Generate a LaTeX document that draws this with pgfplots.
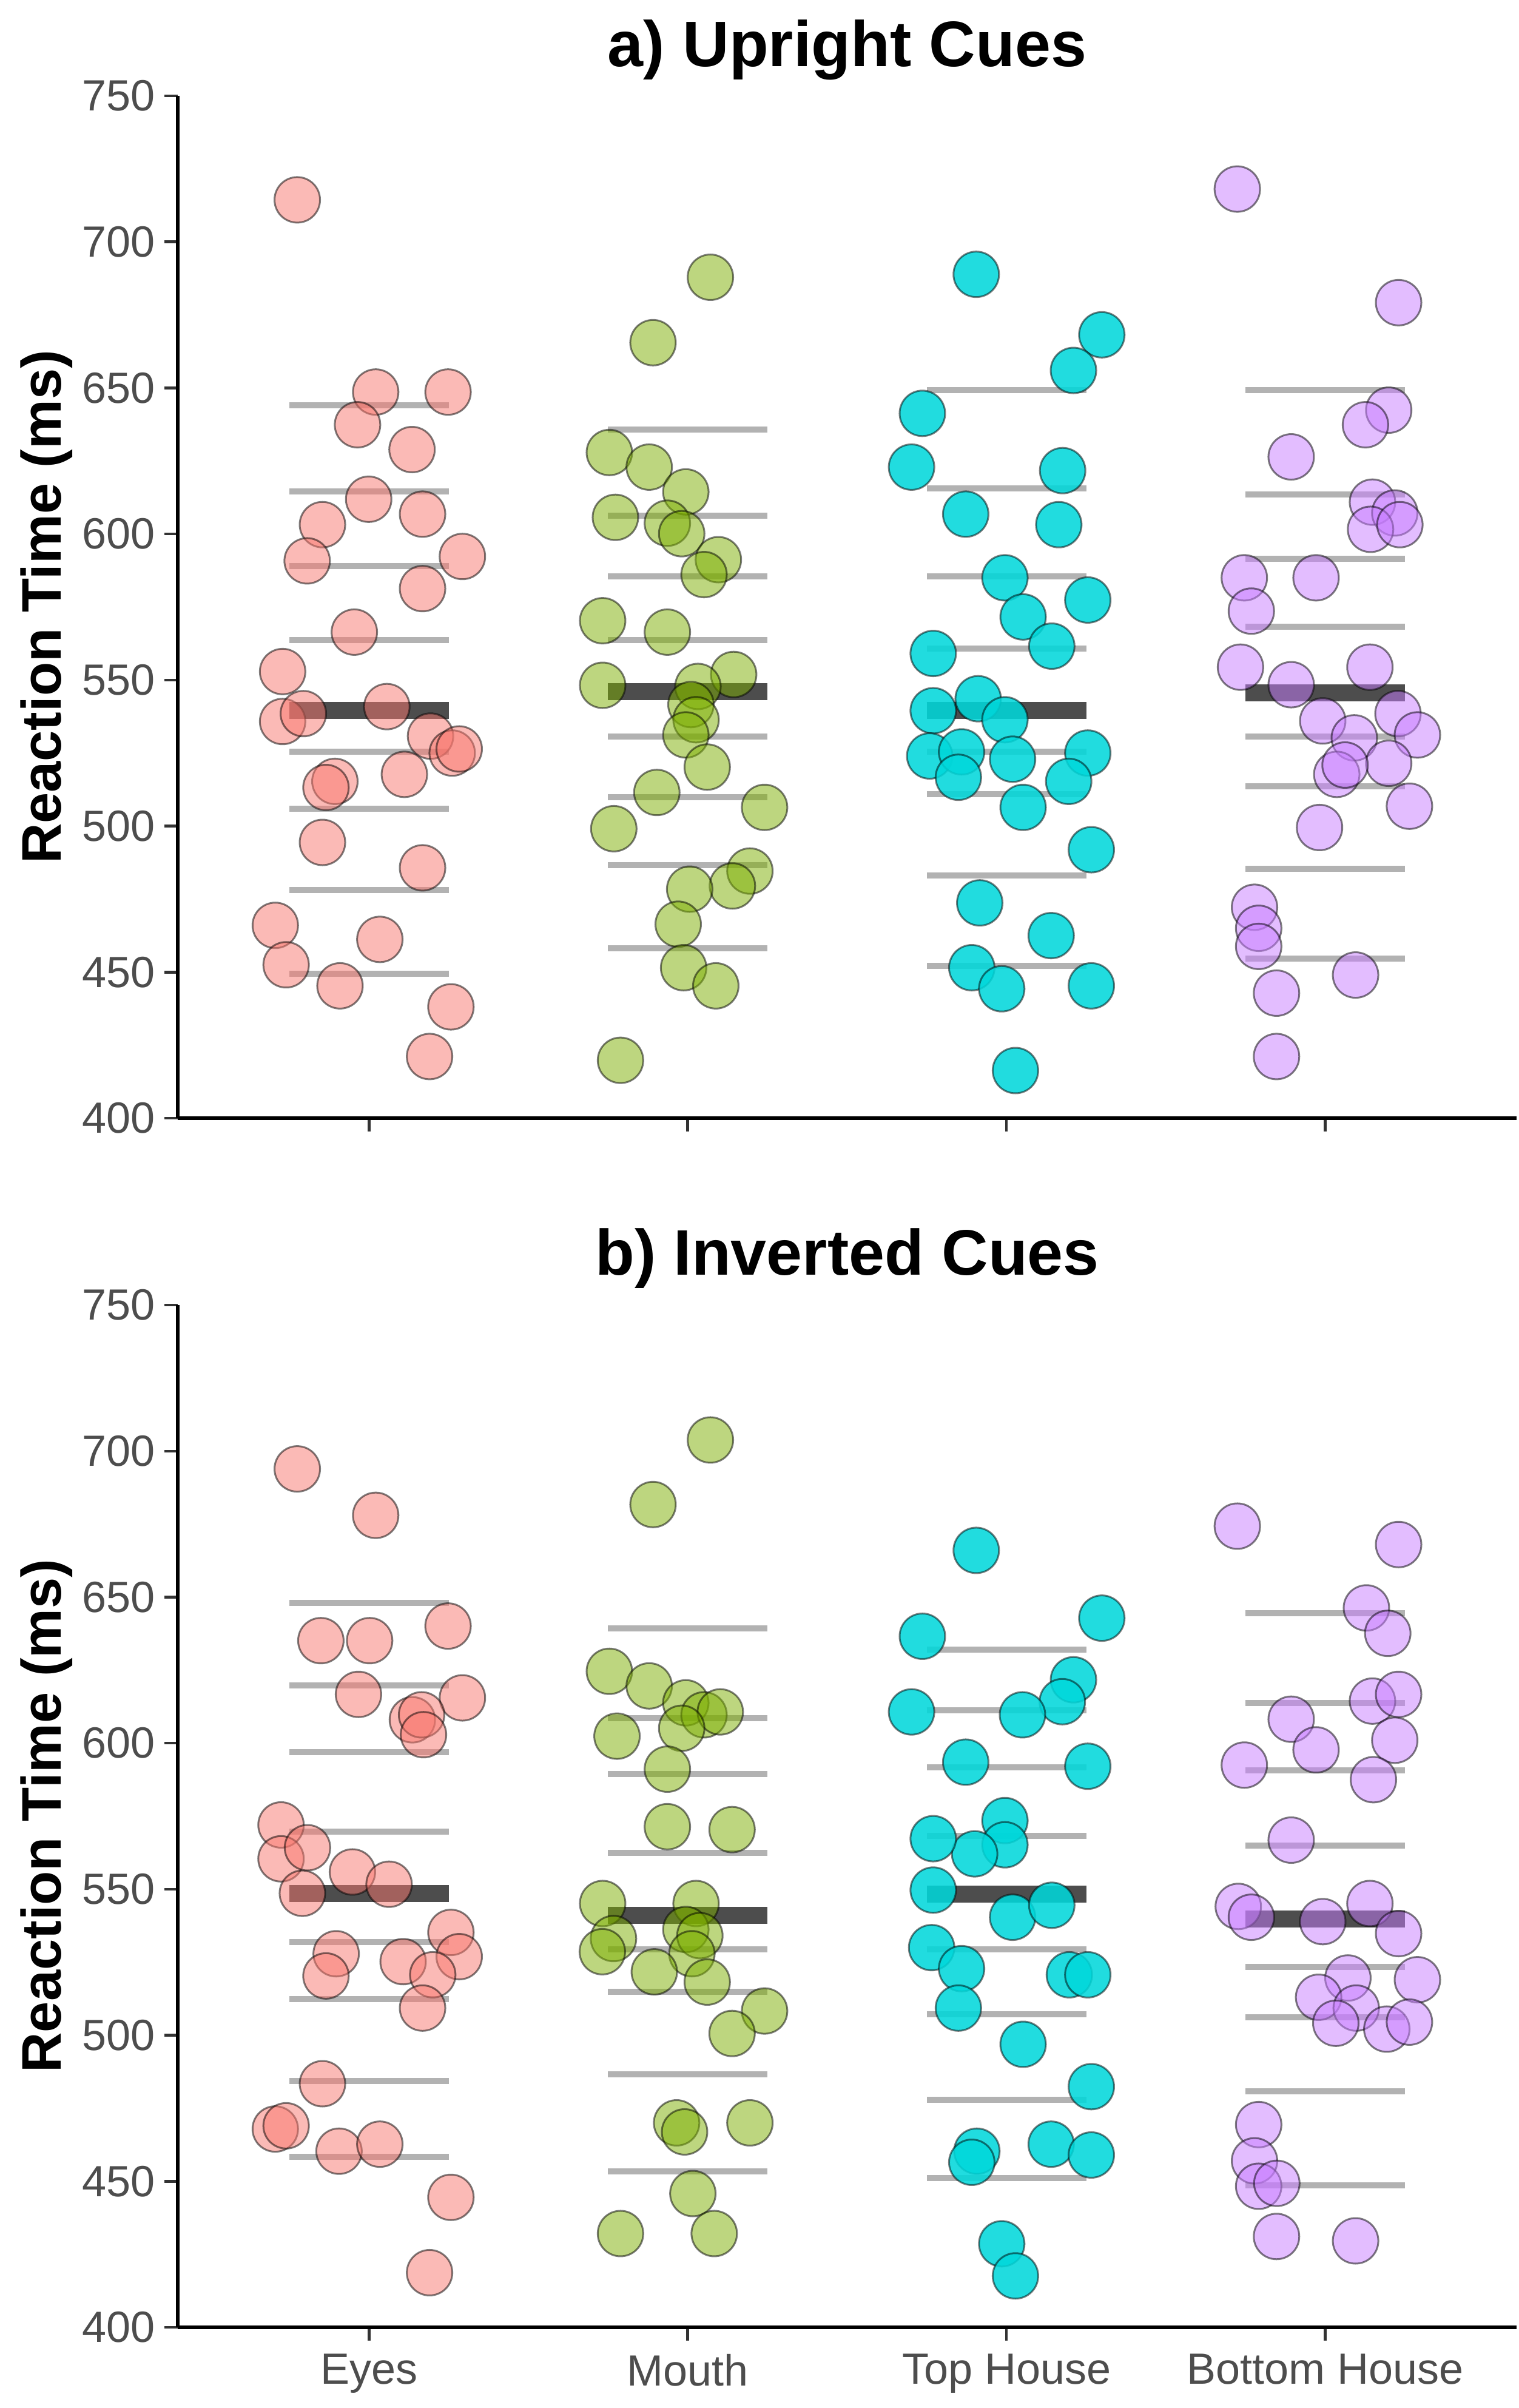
\documentclass[border=0pt]{standalone}
\usepackage{fontspec}
\setmainfont{Liberation Sans}
\usepackage{pgfplots}
\pgfplotsset{compat=1.18}
\definecolor{cEyes}{HTML}{F8766D}
\definecolor{cMouth}{HTML}{7CAE00}
\definecolor{cTop}{RGB}{0,215,218}
\definecolor{cBot}{HTML}{C77CFF}
\definecolor{tickgray}{HTML}{4D4D4D}
\definecolor{qgray}{RGB}{178,178,178}
\definecolor{medgray}{RGB}{77,77,77}
\pgfplotsset{
 rtpanel/.style={
  scale only axis, width=220.7pt, height=168.5pt,
  xmin=0.4, xmax=4.6, ymin=400, ymax=750,
  axis x line*=bottom, axis y line*=left,
  axis line style={-, black, line width=0.6pt},
  xtick={1,2,3,4}, ytick={400,450,...,750},
  tick align=outside, major tick length=2.2pt,
  tick style={color=black!80, line width=0.45pt},
  /pgf/number format/assume math mode=true,
  ticklabel style={font=\fontsize{7.2}{8.6}\selectfont, text=tickgray},
  yticklabel style={inner sep=0pt, xshift=-1.3pt},
  xticklabel style={inner sep=0pt, yshift=-2pt},
  clip=false,
  unbounded coords=jump,
 },
 pts/.style={only marks, mark=*, mark size=3.75pt,
   mark options={fill=#1, fill opacity=0.5, draw=black, draw opacity=0.5, line width=0.3pt}},
 ptsc/.style={only marks, mark=*, mark size=3.75pt,
   mark options={fill=#1, fill opacity=0.87, draw=black, draw opacity=0.5, line width=0.3pt}},
 qline/.style={qgray, line width=1pt, mark=none},
 medline/.style={medgray, line width=2.8pt, mark=none},
}
\begin{document}
\begin{tikzpicture}
\useasboundingbox (0,0) rectangle (250.4pt,396.9pt);
% ---------------- panel a ----------------
\begin{axis}[rtpanel, at={(29.3pt,212.6pt)}, anchor=south west, xticklabels={}]
% quantile lines
\addplot[qline] coordinates {(0.75,644.0) (1.25,644.0) (1,nan) (0.75,614.6) (1.25,614.6) (1,nan) (0.75,589.0) (1.25,589.0) (1,nan) (0.75,563.7) (1.25,563.7) (1,nan) (0.75,525.4) (1.25,525.4) (1,nan) (0.75,506.0) (1.25,506.0) (1,nan) (0.75,478.0) (1.25,478.0) (1,nan) (0.75,449.4) (1.25,449.4)};
\addplot[qline] coordinates {(1.75,635.7) (2.25,635.7) (2,nan) (1.75,606.3) (2.25,606.3) (2,nan) (1.75,585.4) (2.25,585.4) (2,nan) (1.75,563.7) (2.25,563.7) (2,nan) (1.75,530.6) (2.25,530.6) (2,nan) (1.75,509.9) (2.25,509.9) (2,nan) (1.75,486.7) (2.25,486.7) (2,nan) (1.75,458.1) (2.25,458.1)};
\addplot[qline] coordinates {(2.75,649.2) (3.25,649.2) (3,nan) (2.75,615.6) (3.25,615.6) (3,nan) (2.75,585.4) (3.25,585.4) (3,nan) (2.75,560.8) (3.25,560.8) (3,nan) (2.75,525.4) (3.25,525.4) (3,nan) (2.75,510.9) (3.25,510.9) (3,nan) (2.75,483.0) (3.25,483.0) (3,nan) (2.75,452.1) (3.25,452.1)};
\addplot[qline] coordinates {(3.75,649.2) (4.25,649.2) (4,nan) (3.75,613.6) (4.25,613.6) (4,nan) (3.75,591.6) (4.25,591.6) (4,nan) (3.75,568.3) (4.25,568.3) (4,nan) (3.75,530.6) (4.25,530.6) (4,nan) (3.75,513.6) (4.25,513.6) (4,nan) (3.75,485.3) (4.25,485.3) (4,nan) (3.75,454.6) (4.25,454.6)};
% medians
\addplot[medline] coordinates {(0.75,539.5) (1.25,539.5) (1,nan) (1.75,546.1) (2.25,546.1) (2,nan) (2.75,539.5) (3.25,539.5) (3,nan) (3.75,545.7) (4.25,545.7)};
% points
\addplot[pts=cEyes] coordinates {(0.775,714.4) (1.021,648.6) (1.248,648.6) (0.964,637.4) (1.135,628.9) (0.999,611.9) (1.168,606.8) (0.854,603.2) (0.806,590.8) (1.293,592.3) (1.168,581.3) (0.954,566.4) (0.729,552.9) (0.729,535.8) (0.794,538.5) (1.056,540.9) (1.193,530.8) (1.261,525.0) (1.283,526.4) (1.111,517.7) (0.893,515.3) (0.865,513.2) (0.854,494.4) (1.168,485.7) (0.706,466.0) (0.740,452.5) (1.034,461.2) (0.909,445.3) (1.257,438.1) (1.190,421.1)};
\addplot[pts=cMouth] coordinates {(2.071,687.9) (1.891,665.5) (1.754,627.9) (1.879,622.9) (1.994,614.4) (1.773,605.7) (1.936,603.7) (1.981,600.1) (2.096,591.2) (2.051,586.1) (1.733,570.3) (1.936,566.4) (1.733,548.2) (2.144,551.9) (2.032,547.8) (2.010,541.6) (2.026,536.4) (1.994,531.2) (2.061,520.2) (1.903,511.5) (2.241,506.4) (1.768,499.1) (2.195,484.6) (2.140,479.5) (2.006,478.4) (1.970,466.4) (1.987,451.5) (2.088,445.3) (1.789,419.8)};
\addplot[ptsc=cTop] coordinates {(2.905,688.9) (3.299,668.2) (3.210,656.0) (2.736,641.3) (2.702,622.9) (3.176,621.7) (2.872,606.8) (3.164,603.2) (2.995,585.0) (3.255,577.4) (3.052,571.6) (3.142,561.6) (2.770,559.1) (2.770,539.5) (2.911,543.6) (2.995,536.4) (2.759,524.0) (2.859,525.4) (2.849,516.7) (3.019,522.9) (3.255,525.0) (3.195,515.3) (3.052,506.4) (3.266,491.9) (2.916,473.7) (3.140,462.5) (2.891,451.5) (2.985,444.3) (3.266,445.3) (3.028,416.3)};
\addplot[pts=cBot] coordinates {(3.724,718.1) (4.230,679.2) (4.199,642.4) (4.126,637.4) (3.893,626.4) (4.148,610.9) (4.218,607.2) (4.142,601.6) (4.234,603.2) (3.746,585.0) (3.971,585.0) (3.768,573.6) (3.734,554.4) (4.140,554.4) (3.893,548.4) (3.992,536.0) (4.228,538.5) (4.289,531.2) (4.091,530.2) (4.199,521.5) (4.036,517.7) (4.062,520.9) (4.264,506.8) (3.982,499.5) (3.778,472.2) (3.791,465.0) (3.791,458.8) (4.095,449.0) (3.847,442.8) (3.847,421.1)};
\end{axis}
% ---------------- panel b ----------------
\begin{axis}[rtpanel, at={(29.3pt,13.3pt)}, anchor=south west, xticklabels={Eyes,Mouth,Top House,Bottom House}]
\addplot[qline] coordinates {(0.75,648.0) (1.25,648.0) (1,nan) (0.75,619.8) (1.25,619.8) (1,nan) (0.75,596.9) (1.25,596.9) (1,nan) (0.75,569.7) (1.25,569.7) (1,nan) (0.75,531.9) (1.25,531.9) (1,nan) (0.75,512.4) (1.25,512.4) (1,nan) (0.75,484.3) (1.25,484.3) (1,nan) (0.75,458.4) (1.25,458.4)};
\addplot[qline] coordinates {(1.75,639.3) (2.25,639.3) (2,nan) (1.75,608.6) (2.25,608.6) (2,nan) (1.75,589.4) (2.25,589.4) (2,nan) (1.75,562.5) (2.25,562.5) (2,nan) (1.75,529.4) (2.25,529.4) (2,nan) (1.75,514.9) (2.25,514.9) (2,nan) (1.75,486.6) (2.25,486.6) (2,nan) (1.75,453.4) (2.25,453.4)};
\addplot[qline] coordinates {(2.75,632.0) (3.25,632.0) (3,nan) (2.75,611.3) (3.25,611.3) (3,nan) (2.75,591.7) (3.25,591.7) (3,nan) (2.75,568.3) (3.25,568.3) (3,nan) (2.75,529.4) (3.25,529.4) (3,nan) (2.75,507.2) (3.25,507.2) (3,nan) (2.75,477.9) (3.25,477.9) (3,nan) (2.75,451.0) (3.25,451.0)};
\addplot[qline] coordinates {(3.75,644.5) (4.25,644.5) (4,nan) (3.75,613.8) (4.25,613.8) (4,nan) (3.75,590.6) (4.25,590.6) (4,nan) (3.75,565.0) (4.25,565.0) (4,nan) (3.75,523.4) (4.25,523.4) (4,nan) (3.75,506.2) (4.25,506.2) (4,nan) (3.75,480.8) (4.25,480.8) (4,nan) (3.75,448.7) (4.25,448.7)};
\addplot[medline] coordinates {(0.75,548.6) (1.25,548.6) (1,nan) (1.75,541.0) (2.25,541.0) (2,nan) (2.75,548.4) (3.25,548.4) (3,nan) (3.75,539.7) (4.25,539.7)};
\addplot[pts=cEyes] coordinates {(0.775,693.9) (1.021,678.0) (1.248,640.1) (0.849,635.1) (1.002,635.1) (1.293,615.5) (0.967,616.7) (1.136,608.0) (1.165,609.7) (1.171,602.9) (0.724,572.0) (0.724,560.4) (0.807,564.2) (0.791,548.6) (0.948,555.9) (1.063,551.7) (0.897,527.9) (0.865,520.3) (1.257,535.2) (1.107,525.2) (1.283,526.9) (1.200,520.7) (1.168,509.3) (0.854,483.4) (0.706,467.9) (0.740,469.0) (0.906,460.3) (1.034,462.7) (1.257,444.5) (1.190,418.7)};
\addplot[pts=cMouth] coordinates {(2.071,703.8) (1.891,681.7) (1.754,624.6) (1.879,619.6) (1.994,613.8) (2.051,609.7) (2.102,610.7) (1.981,605.1) (1.778,602.4) (1.936,591.1) (1.936,571.4) (2.139,570.4) (1.733,545.1) (1.767,533.1) (1.732,528.6) (2.026,545.1) (1.994,536.2) (2.038,534.1) (2.013,527.9) (2.061,518.2) (1.895,521.7) (2.241,508.3) (2.139,500.6) (1.965,470.0) (1.990,466.9) (2.195,470.0) (2.016,445.8) (1.789,432.1) (2.083,432.1)};
\addplot[ptsc=cTop] coordinates {(2.905,666.0) (3.299,642.8) (2.736,636.6) (3.210,621.7) (3.175,614.2) (2.702,610.7) (3.050,609.7) (2.872,593.5) (3.255,592.1) (2.995,573.5) (2.995,565.2) (2.900,562.1) (2.770,567.3) (2.770,549.7) (3.019,540.4) (3.142,544.5) (2.765,530.0) (2.859,522.8) (2.849,509.3) (3.197,520.7) (3.255,520.7) (3.052,496.9) (3.266,482.4) (2.907,460.3) (2.891,456.5) (3.140,462.7) (3.266,459.0) (2.985,428.6) (3.028,417.6)};
\addplot[pts=cBot] coordinates {(3.724,674.3) (4.230,668.0) (4.129,646.3) (4.196,637.6) (4.148,614.4) (4.230,616.7) (3.893,608.2) (4.218,601.0) (3.971,597.7) (3.746,592.5) (4.151,587.5) (3.893,566.8) (3.727,544.1) (3.768,540.4) (3.992,538.9) (4.140,545.1) (4.230,534.8) (4.289,519.0) (4.071,519.6) (3.979,513.0) (4.097,509.3) (4.033,504.1) (4.193,502.1) (4.264,504.5) (3.791,469.4) (3.778,457.0) (3.791,448.3) (3.848,449.3) (3.847,431.1) (4.095,429.6)};
\end{axis}
% titles and axis titles
\node[anchor=base, font=\fontsize{10.6}{12.7}\selectfont\bfseries] at (139.65pt,385.9pt) {a) Upright Cues};
\node[anchor=base, font=\fontsize{10.6}{12.7}\selectfont\bfseries] at (139.65pt,186.7pt) {b) Inverted Cues};
\node[anchor=base, rotate=90, font=\fontsize{9.2}{11}\selectfont\bfseries] at (10pt,296.85pt) {Reaction Time (ms)};
\node[anchor=base, rotate=90, font=\fontsize{9.2}{11}\selectfont\bfseries] at (10pt,97.6pt) {Reaction Time (ms)};
\end{tikzpicture}
\end{document}
